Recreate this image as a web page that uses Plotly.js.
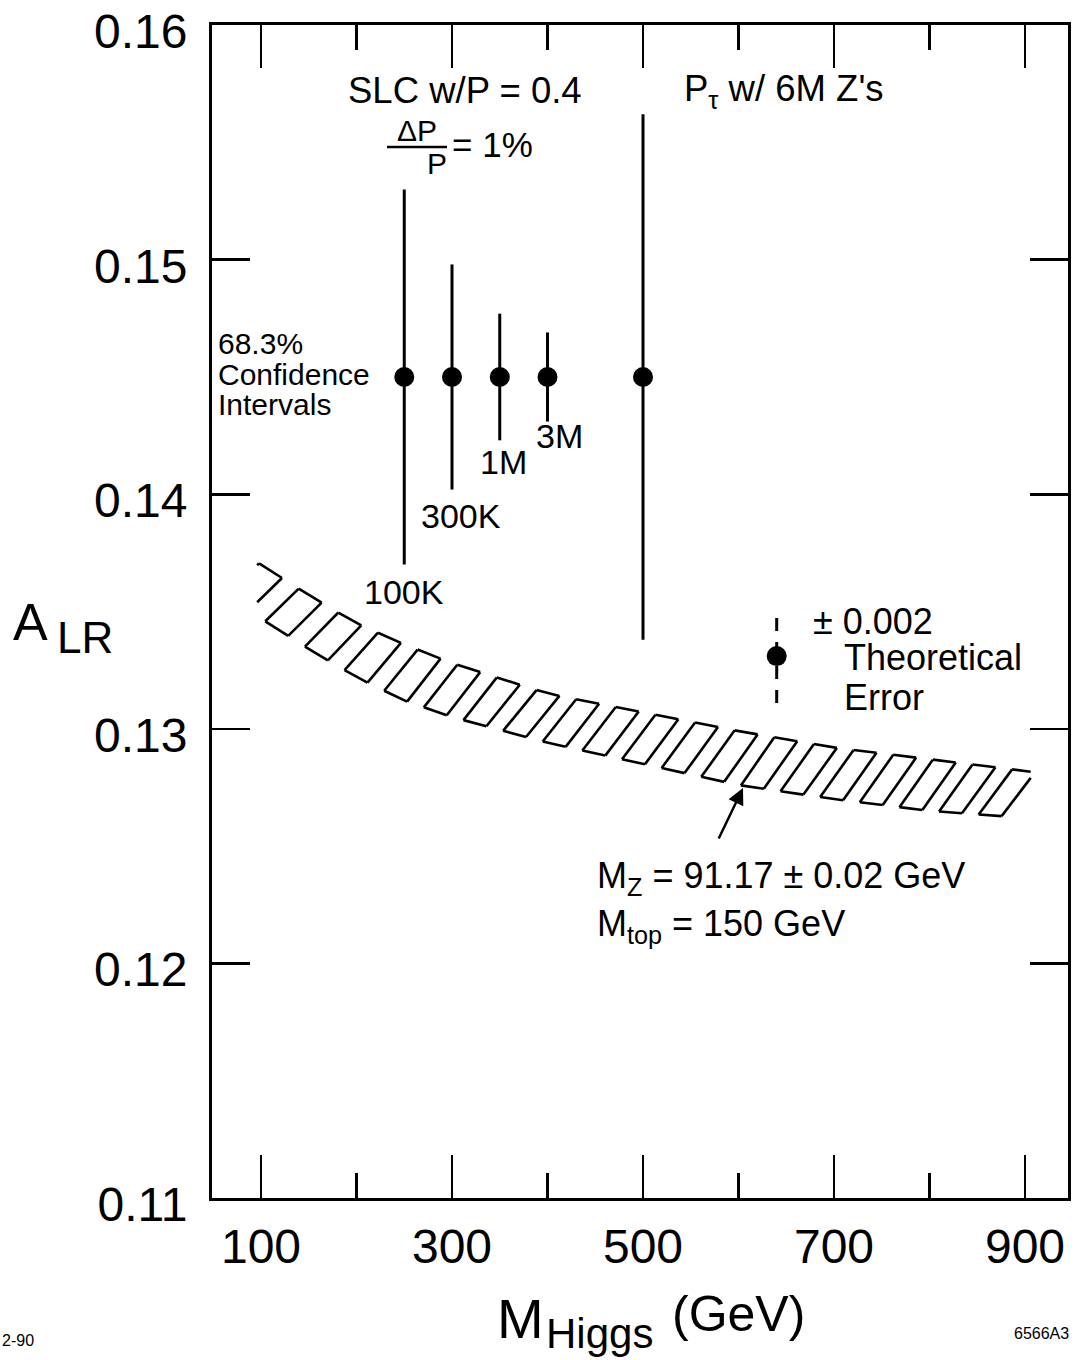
<!DOCTYPE html>
<html>
<head>
<meta charset="utf-8">
<script src="https://cdn.plot.ly/plotly-3.0.1.min.js"></script>
<style>html,body{margin:0;padding:0;background:#fff;}#chart{width:1080px;height:1360px;}</style>
</head>
<body>
<div id="chart"></div>
<script>
// ---------- data ----------
const pointMass = [250, 300, 350, 400, 500];          // GeV
const pointALR  = [0.145, 0.145, 0.145, 0.145, 0.145];
const pointErr  = [0.0080, 0.0048, 0.0027, 0.0019, 0.0112];
const pointLabels = ['100K', '300K', '1M', '3M'];

const theoryMass = [640];
const theoryALR  = [0.1331];
const theoryErr  = [0.002];

const bandMass  = [100, 150, 200, 250, 300, 400, 500, 600, 700, 800, 900];
const bandUpper = [0.1370, 0.1357, 0.1345, 0.1336, 0.1328, 0.1315, 0.1307, 0.1299, 0.1292, 0.1287, 0.1282];
const bandLower = [0.1347, 0.1334, 0.1322, 0.1312, 0.1305, 0.1294, 0.1285, 0.1276, 0.1270, 0.1265, 0.1262];

const xTickVals = [100, 300, 500, 700, 900];
const xMinorVals = [200, 400, 600, 800];
const yTickVals = [0.11, 0.12, 0.13, 0.14, 0.15, 0.16];

// ---------- geometry helpers (layout only) ----------
const L = 212, R = 12, T = 25, B = 162, W = 1080, H = 1360;
const PW = W - L - R, PH = H - T - B;
const px = x => (x - L) / PW;
const py = y => 1 - (y - T) / PH;

function interp(xs, ys, x) {
  if (x <= xs[0]) return ys[0] + (ys[1]-ys[0])/(xs[1]-xs[0])*(x-xs[0]);
  const n = xs.length - 1;
  if (x >= xs[n]) return ys[n] + (ys[n]-ys[n-1])/(xs[n]-xs[n-1])*(x-xs[n]);
  for (let i = 0; i < n; i++) {
    if (x >= xs[i] && x <= xs[i+1]) return ys[i] + (ys[i+1]-ys[i])*(x-xs[i])/(xs[i+1]-xs[i]);
  }
}

// hatch drawing of the band: slanted parallelogram cells along the band
const hx = [], hy = [];
const cellStep = 41.5, cellW = 24, cellSlant = 35;
const xMin = bandMass[0] - 4, xMax = bandMass[bandMass.length-1] + 6;
function addSeg(a, b) {
  let [x1, y1] = a, [x2, y2] = b;
  if (x1 > x2) { [x1, y1, x2, y2] = [x2, y2, x1, y1]; }
  if (x2 < xMin || x1 > xMax) return;
  const f = x => y1 + (y2 - y1) * (x - x1) / (x2 - x1);
  const cx1 = Math.max(x1, xMin), cx2 = Math.min(x2, xMax);
  hx.push(cx1, cx2, null); hy.push(f(cx1), f(cx2), null);
}
for (let k = 0; ; k++) {
  const xt = bandMass[0] - 2 + k * cellStep;
  if (xt > xMax) break;
  const TL = [xt, interp(bandMass, bandUpper, xt)];
  const TR = [xt + cellW, interp(bandMass, bandUpper, xt + cellW)];
  const BR = [xt + cellW - cellSlant, interp(bandMass, bandLower, xt + cellW - cellSlant)];
  const BL = [xt - cellSlant, interp(bandMass, bandLower, xt - cellSlant)];
  addSeg(TL, TR); addSeg(TR, BR); addSeg(BR, BL); addSeg(BL, TL);
}

const traces = [
  { x: hx, y: hy, mode: 'lines', line: {color: '#000', width: 2.6}, connectgaps: false, hoverinfo: 'skip', showlegend: false },
  { x: pointMass, y: pointALR, mode: 'markers', marker: {color: '#000', size: 20},
    error_y: {type: 'data', array: pointErr, visible: true, thickness: 3, width: 0, color: '#000'}, showlegend: false },
  { x: [theoryMass[0], theoryMass[0]], y: [theoryALR[0] - theoryErr[0], theoryALR[0] + theoryErr[0]],
    mode: 'lines', line: {color: '#000', width: 3, dash: '13px,11px'}, showlegend: false },
  { x: theoryMass, y: theoryALR, mode: 'markers', marker: {color: '#000', size: 20}, showlegend: false }
];

const F = 'Liberation Sans, Arial, Helvetica, sans-serif';
function lab(text, x, y, size, xanchor) {
  return { text: text, x: px(x), y: py(y), xref: 'paper', yref: 'paper', showarrow: false,
    xanchor: xanchor || 'left', yanchor: 'middle', align: 'left', font: {family: F, size: size, color: '#000'} };
}

const annotations = [
  lab('SLC w/P = 0.4', 346, 91, 36.5),
  lab('ΔP', 417, 131, 30, 'center'),
  lab('P', 437, 163, 30, 'center'),
  lab('= 1%', 450, 144, 35),
  lab('P<sub>τ</sub> w/ 6M Z\'s', 682, 91, 36.5),
  lab('<span style="font-size:30px">68.3%</span><br><span style="font-size:30px">Confidence</span><br><span style="font-size:30px">Intervals</span>', 216, 374, 23.5),
  lab(pointLabels[0], 362, 592, 34),
  lab(pointLabels[1], 419, 516, 34),
  lab(pointLabels[2], 478, 462, 34),
  lab(pointLabels[3], 534, 436, 34),
  lab('± 0.002', 811, 621, 36),
  lab('Theoretical', 842, 657, 36),
  lab('Error', 842, 697, 36),
  lab('M<sub>Z</sub> = 91.17 ± 0.02 GeV', 595, 878, 36),
  lab('M<sub>top</sub> = 150 GeV', 595, 926, 36),
  lab('A', 11, 622, 52),
  lab('LR', 55, 637, 44),
  lab('M', 495, 1318, 56),
  lab('Higgs', 544, 1333, 42),
  lab('(GeV)', 670, 1314, 50),
  lab('2-90', 0, 1340, 16),
  lab('6566A3', 1012, 1333, 16),
  { text: '', x: px(743), y: py(788), xref: 'paper', yref: 'paper', showarrow: true,
    ax: -25, ay: 52, arrowhead: 2, arrowsize: 1.3, arrowwidth: 2.5, arrowcolor: '#000', standoff: 0 }
];

const shapes = [
  { type: 'line', xref: 'paper', yref: 'paper', x0: px(387), x1: px(447), y0: py(147), y1: py(147),
    line: {color: '#000', width: 2.5} }
];

const layout = {
  width: W, height: H,
  margin: {l: L, r: R, t: T, b: B},
  paper_bgcolor: '#fff', plot_bgcolor: '#fff',
  showlegend: false,
  font: {family: F, color: '#000'},
  xaxis: {
    range: [48.7, 945], tickvals: xTickVals, ticktext: xTickVals.map(String),
    ticks: 'inside', ticklen: 43, tickwidth: 2.5, tickcolor: '#000',
    minor: {tickvals: xMinorVals, ticks: 'inside', ticklen: 25, tickwidth: 2.5, tickcolor: '#000'},
    showline: true, linewidth: 3, linecolor: '#000', mirror: 'ticks',
    showgrid: false, zeroline: false, ticklabeloverflow: 'allow',
    tickfont: {family: F, size: 48, color: '#000'}, ticklabelstandoff: 4
  },
  yaxis: {
    range: [0.10999, 0.16001], tickvals: yTickVals, ticktext: yTickVals.map(v => v.toFixed(2)),
    ticks: 'inside', ticklen: 38, tickwidth: 2.5, tickcolor: '#000',
    showline: true, linewidth: 3, linecolor: '#000', mirror: 'ticks',
    showgrid: false, zeroline: false, ticklabeloverflow: 'allow',
    tickfont: {family: F, size: 48, color: '#000'}, ticklabelstandoff: 12, ticklabelshift: 6
  },
  annotations: annotations,
  shapes: shapes
};

Plotly.newPlot('chart', traces, layout, {staticPlot: true, displayModeBar: false});
</script>
</body>
</html>
